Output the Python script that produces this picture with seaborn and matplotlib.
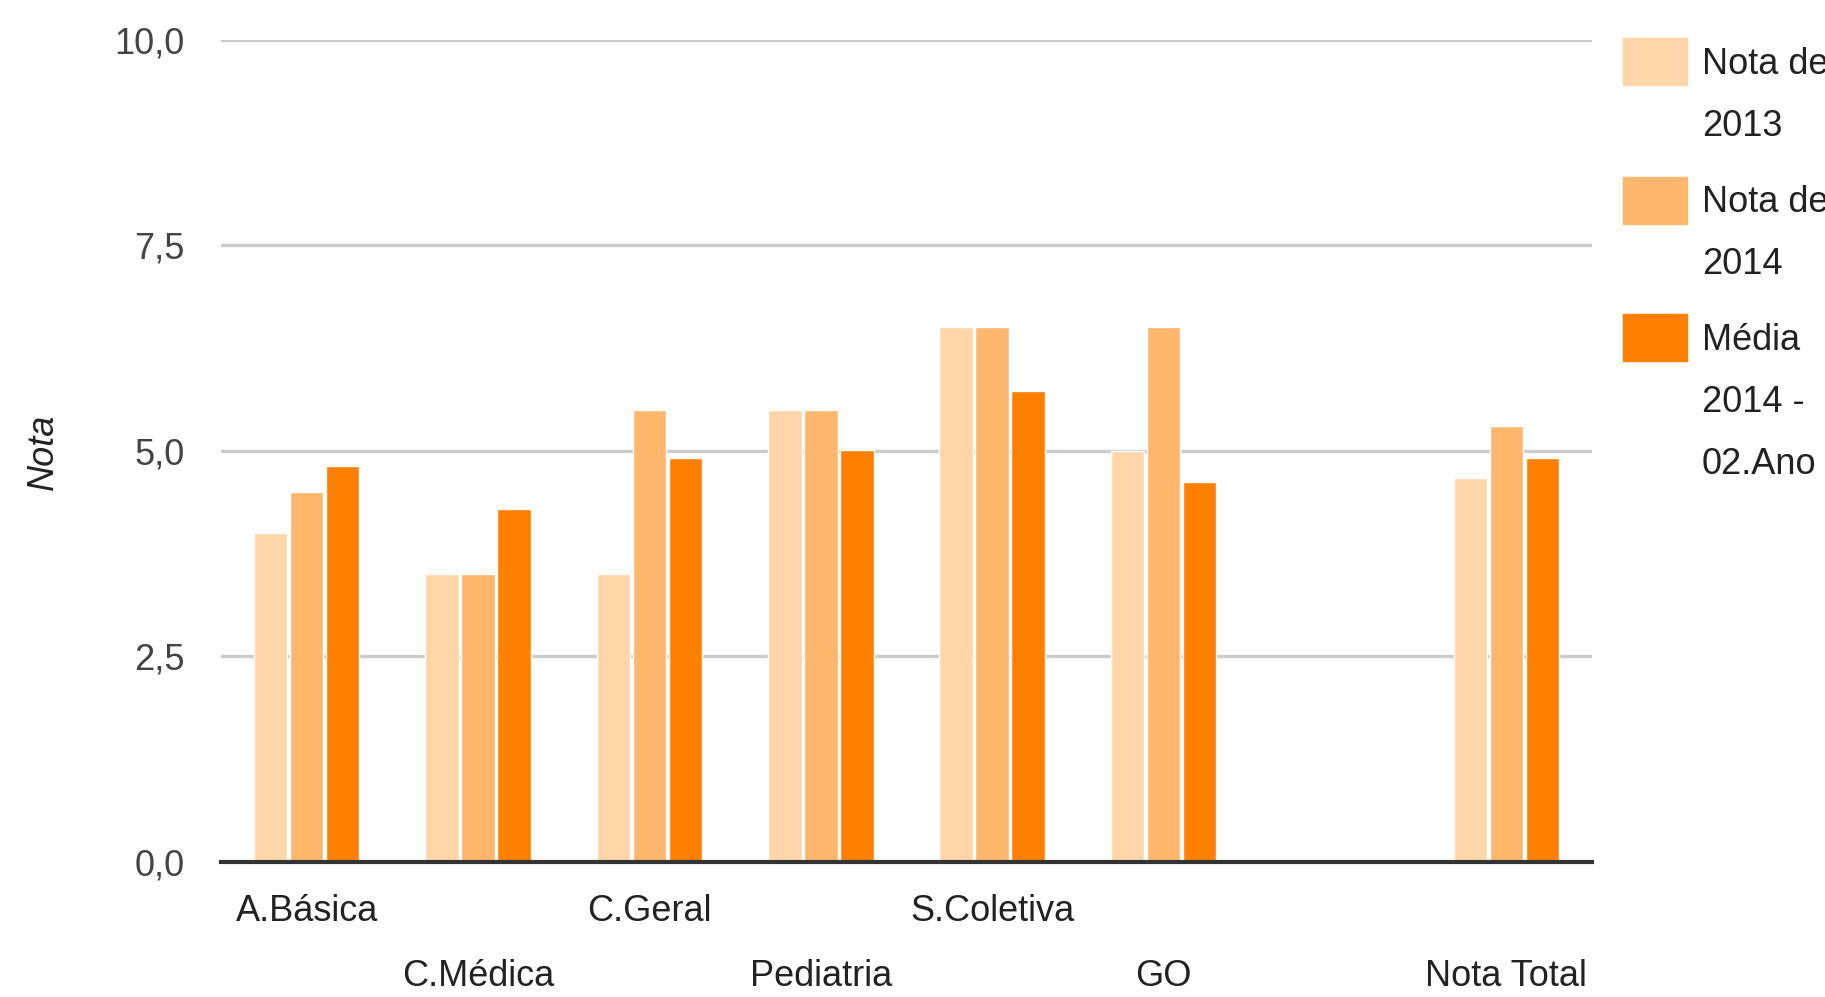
import matplotlib
matplotlib.use("Agg")
import matplotlib.pyplot as plt
from matplotlib import font_manager
from matplotlib.patches import Rectangle
import seaborn as sns
import pandas as pd

categories = ["A.Básica", "C.Médica", "C.Geral", "Pediatria", "S.Coletiva", "GO", " ", "Nota Total"]
data_categories = ["A.Básica", "C.Médica", "C.Geral", "Pediatria", "S.Coletiva", "GO", "Nota Total"]
nota_2013 = [4.0, 3.5, 3.5, 5.5, 6.5, 5.0, 4.67]
nota_2014 = [4.5, 3.5, 5.5, 5.5, 6.5, 6.5, 5.30]
media_2014 = [4.82, 4.29, 4.91, 5.01, 5.73, 4.62, 4.91]
series_names = ["Nota de 2013", "Nota de 2014", "Média 2014 - 02.Ano"]
legend_labels = ["Nota de\n2013", "Nota de\n2014", "Média\n2014 -\n02.Ano"]
colors = ["#FED6A9", "#FFB66D", "#FF8000"]
yticks = [0, 2.5, 5, 7.5, 10]
ytick_labels = ["0,0", "2,5", "5,0", "7,5", "10,0"]

names = {f.name for f in font_manager.fontManager.ttflist}
FONT = "Liberation Sans Narrow" if "Liberation Sans Narrow" in names else "Liberation Sans"
FS = 31.5 if FONT == "Liberation Sans Narrow" else 26

rows = []
for c, a, b, m in zip(data_categories, nota_2013, nota_2014, media_2014):
    rows.append({"cat": c, "serie": series_names[0], "nota": a})
    rows.append({"cat": c, "serie": series_names[1], "nota": b})
    rows.append({"cat": c, "serie": series_names[2], "nota": m})
df = pd.DataFrame(rows)

sns.set_style("white")
plt.rcParams["font.family"] = [FONT, "DejaVu Sans"]

fig = plt.figure(figsize=(18.25, 9.97), dpi=100)
ax = fig.add_axes([221 / 1825, 1 - 862 / 997, (1592 - 221) / 1825, (862 - 39.6) / 997])

sns.barplot(data=df, x="cat", y="nota", hue="serie", order=categories,
            hue_order=series_names, palette=colors, width=0.63, gap=0.07,
            saturation=1, errorbar=None, legend=False, ax=ax, zorder=3)

ax.set_xlim(-0.5, len(categories) - 0.5)
ax.set_ylim(0, 10)
ax.set_yticks(yticks)
ax.set_yticklabels(ytick_labels)
ax.yaxis.grid(True, color="#CCCCCC", linewidth=2.4, zorder=0)
ax.set_axisbelow(True)
for s in ["top", "right", "left"]:
    ax.spines[s].set_visible(False)
ax.spines["bottom"].set_color("#333333")
ax.spines["bottom"].set_linewidth(3)
ax.spines["bottom"].set_zorder(5)
ax.tick_params(axis="y", length=0, pad=26, labelsize=FS, labelcolor="#444444")
ax.tick_params(axis="x", length=0, labelsize=FS, labelcolor="#222222")
ax.set_xticks(range(len(categories)))
ax.set_xticklabels(categories)
for i, t in enumerate(ax.xaxis.get_major_ticks()):
    t.set_pad(23 if i % 2 == 0 else 70)
ax.set_xlabel("")
ax.set_ylabel("Nota", fontsize=FS, style="italic", color="#222222", labelpad=0)
ax.yaxis.set_label_coords(-(221 - 61) / (1592 - 221), (862 - 452) / (862 - 39.6))

# legend
W, H = 1825, 997
line_h = 62
y0s = [38, 177, 314]
for col, lab, y0 in zip(colors, legend_labels, y0s):
    fig.patches.append(Rectangle((1623 / W, 1 - (y0 + 47) / H), 64 / W, 47 / H,
                                 transform=fig.transFigure, color=col))
    for j, ln in enumerate(lab.split("\n")):
        fig.text(1702 / W, 1 - (y0 + 26 + j * line_h) / H, ln, fontsize=FS,
                 va="center", ha="left", color="#222222")

fig.savefig("out.png", dpi=100)
